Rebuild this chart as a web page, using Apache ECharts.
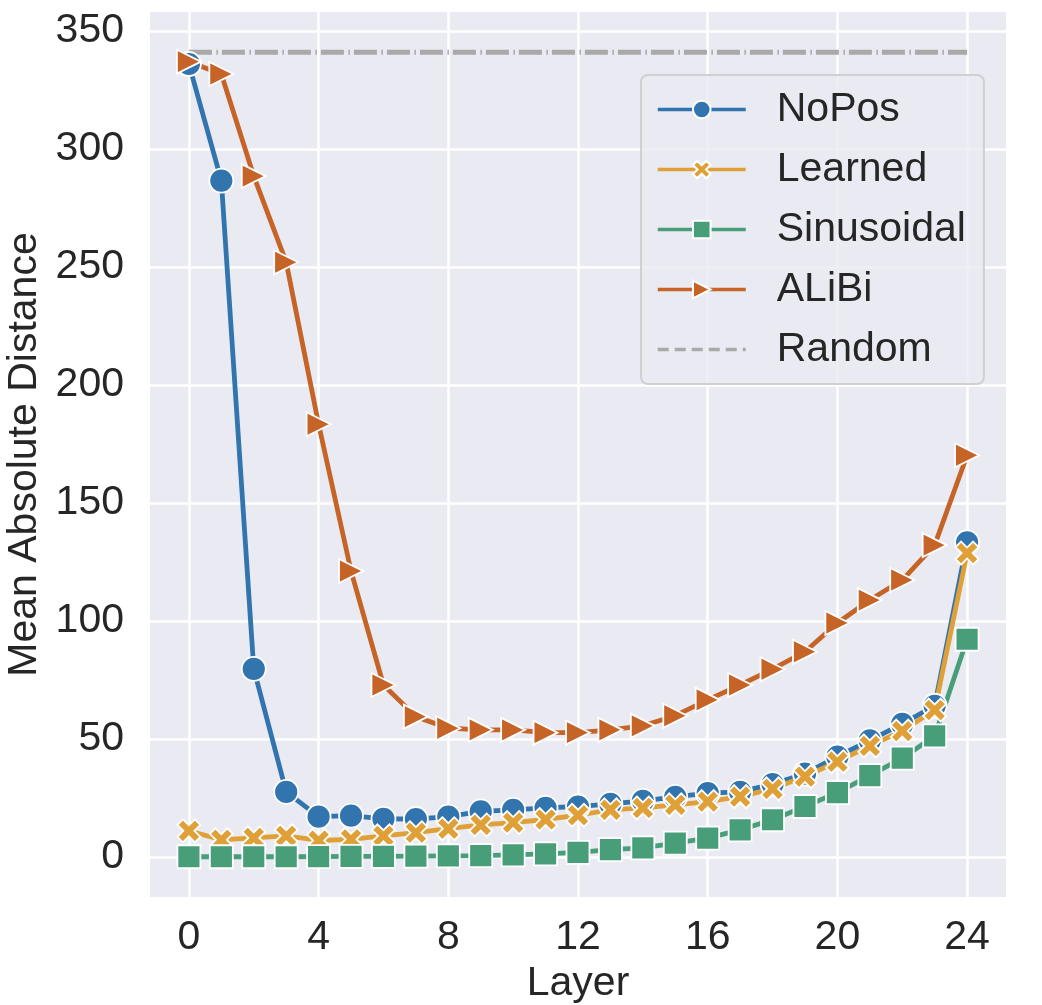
<!DOCTYPE html>
<html>
<head>
<meta charset="utf-8">
<script src="https://cdn.jsdelivr.net/npm/echarts@6/dist/echarts.min.js"></script>
<style>
  html, body { margin: 0; padding: 0; background: #fff; }
  #chart { width: 1042px; height: 1005px; }
</style>
</head>
<body>
<div id="chart"></div>
<script>
// layers 0..24
const layers = [0,1,2,3,4,5,6,7,8,9,10,11,12,13,14,15,16,17,18,19,20,21,22,23,24];

const noPos = [336, 286.6, 79.6, 27.5, 17, 17.4, 16.1, 16, 17, 19.2, 19.9, 20.7, 21.3,
  22.4, 23.7, 25.4, 27, 27.5, 30.8, 35.2, 42.5, 49.3, 56.3, 64, 133.3];
const learned = [11, 7.2, 8, 8.9, 6.9, 7.4, 8.9, 10.2, 11.9, 13.5, 14.5, 15.8, 17.6,
  19.9, 20.7, 22, 23.4, 25.5, 28.8, 34, 40.3, 47, 53.3, 62.2, 128.7];
const sinusoidal = [0, 0, 0, 0, 0.1, 0.2, 0.2, 0.3, 0.4, 0.5, 0.8, 1.2, 1.9,
  3, 3.8, 5.8, 7.9, 11.4, 15.7, 21.3, 27.2, 34.4, 41.8, 51.2, 92.2];
const alibi = [337, 331.8, 288.5, 252, 183.3, 121.1, 72.8, 59.4, 54.5, 53.8, 53.8, 52.6, 52.6,
  53.8, 55.5, 59.8, 66.5, 72.8, 79.5, 86.9, 99.1, 108.8, 117.3, 132.1, 170.2];
const randomLevel = 341;

const xTicks = [0, 4, 8, 12, 16, 20, 24];
const yTicks = [0, 50, 100, 150, 200, 250, 300, 350];

const font = '"Liberation Sans", Arial, sans-serif';
const textColor = '#262626';

const xPath = 'path://M2.4,0L5,2.6L7.6,0L10,2.4L7.4,5L10,7.6L7.6,10L5,7.4L2.4,10L0,7.6L2.6,5L0,2.4Z';
const triPath = 'path://M0,0L10,5L0,10Z';

function pairs(vals) {
  return layers.map((x, i) => [x, vals[i]]);
}

function makeSeries(name, vals, color, symbol, size) {
  return {
    name: name,
    type: 'line',
    data: pairs(vals),
    symbol: symbol,
    symbolSize: size,
    showSymbol: true,
    color: color,
    lineStyle: { color: color, width: 4.8 },
    itemStyle: { color: color, borderColor: '#ffffff', borderWidth: 1.8 },
    emphasis: { disabled: true },
    animation: false
  };
}

const legendLine = { width: 3.5, type: 'solid' };

const chart = echarts.init(document.getElementById('chart'));
chart.setOption({
  animation: false,
  backgroundColor: '#ffffff',
  grid: {
    left: 150, right: 36, top: 12, bottom: 108,
    outerBoundsMode: 'none',
    show: true, backgroundColor: '#EAEAF2', borderWidth: 0
  },
  legend: {
    left: 641, top: 75,
    orient: 'vertical',
    itemWidth: 88, itemHeight: 22, itemGap: 19,
    padding: [14, 18, 14, 15],
    backgroundColor: 'rgba(234,234,242,0.8)',
    borderColor: '#d0d0d0', borderWidth: 2, borderRadius: 7,
    textStyle: { fontFamily: font, fontSize: 41, color: textColor, lineHeight: 40, padding: [0, 0, 0, 26] },
    data: [
      { name: 'NoPos', lineStyle: legendLine },
      { name: 'Learned', lineStyle: legendLine },
      { name: 'Sinusoidal', lineStyle: legendLine },
      { name: 'ALiBi', lineStyle: legendLine },
      { name: 'Random', lineStyle: { width: 3.5, type: [11, 6] }, itemStyle: { opacity: 0 } }
    ]
  },
  xAxis: {
    type: 'value',
    min: -1.2, max: 25.2,
    name: 'Layer', nameLocation: 'middle', nameGap: 66,
    nameTextStyle: { fontFamily: font, fontSize: 41, color: textColor },
    axisLine: { show: false },
    axisTick: { show: false, customValues: xTicks },
    axisLabel: { customValues: xTicks, fontFamily: font, fontSize: 41, color: textColor, margin: 20 },
    splitLine: { show: true, lineStyle: { color: '#ffffff', width: 2.5 } }
  },
  yAxis: {
    type: 'value',
    min: -17.05, max: 358.05,
    name: 'Mean Absolute Distance', nameLocation: 'middle', nameGap: 92,
    nameTextStyle: { fontFamily: font, fontSize: 41, color: textColor },
    axisLine: { show: false },
    axisTick: { show: false, customValues: yTicks },
    axisLabel: { customValues: yTicks, fontFamily: font, fontSize: 41, color: textColor, margin: 26 },
    splitLine: { show: true, lineStyle: { color: '#ffffff', width: 2.5 } }
  },
  series: [
    makeSeries('NoPos', noPos, '#3274AE', 'circle', 24),
    makeSeries('Learned', learned, '#E0A038', xPath, 23),
    makeSeries('Sinusoidal', sinusoidal, '#479E78', 'rect', 23),
    makeSeries('ALiBi', alibi, '#C66428', triPath, 24),
    {
      name: 'Random',
      type: 'line',
      data: layers.map(x => [x, randomLevel]),
      symbol: 'none',
      showSymbol: false,
      color: '#A9A9A9',
      lineStyle: { color: '#A9A9A9', width: 4.8, type: [23, 4.5, 1.5, 4] },
      emphasis: { disabled: true },
      animation: false
    }
  ]
});
</script>
</body>
</html>
